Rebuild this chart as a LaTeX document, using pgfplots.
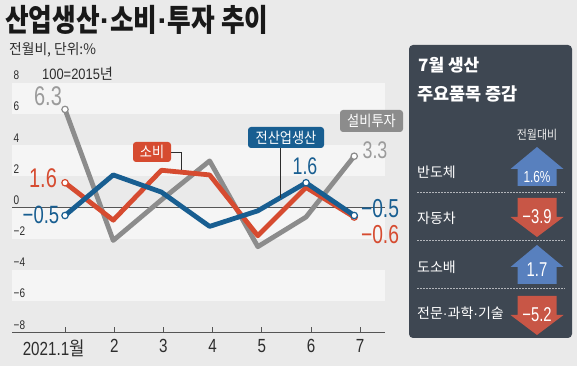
\documentclass[border=0pt]{standalone}
\usepackage{fontspec}
\usepackage{pgfplots}
\pgfplotsset{compat=1.18}
\setmainfont{Liberation Sans}
\newfontfamily\numf[FakeStretch=0.74]{Liberation Sans}
\newfontfamily\tickf[FakeStretch=0.8]{Liberation Sans}
\newfontfamily\smallf[FakeStretch=0.86]{Liberation Sans}
\newfontfamily\krt[FakeStretch=0.83]{Noto Sans CJK KR}
\newfontfamily\krn[FakeStretch=0.88]{Noto Sans CJK KR}
\newfontfamily\krs[FakeStretch=0.95]{Noto Sans CJK KR}
\newfontfamily\kr{Noto Sans CJK KR}
\newfontfamily\latin{Liberation Sans}
\newcommand{\mdot}{{\latin\bfseries ·}}
\newcommand{\mdotr}{{\latin ·}}
\definecolor{bg}{RGB}{234,234,234}
\definecolor{band}{RGB}{245,245,245}
\definecolor{cgray}{RGB}{140,140,140}
\definecolor{lgray}{RGB}{155,155,155}
\definecolor{cred}{RGB}{214,75,48}
\definecolor{cblue}{RGB}{24,94,145}
\definecolor{panel}{RGB}{62,71,82}
\definecolor{upblue}{RGB}{88,128,190}
\definecolor{downred}{RGB}{200,86,70}
\definecolor{axisc}{RGB}{85,85,85}
\definecolor{txt}{RGB}{45,45,45}
\definecolor{titlec}{RGB}{25,25,25}
\begin{document}
\begin{tikzpicture}[x=1pt,y=1pt]
\fill[bg] (0,0) rectangle (577,366);
\useasboundingbox (0,0) rectangle (577,366);
% bands
\fill[band] (12,251.9) rectangle (385,283.1);
\fill[band] (12,189.5) rectangle (385,220.7);
\fill[band] (12,127.1) rectangle (385,158.3);
\fill[band] (12,64.7) rectangle (385,95.9);
% titles
\node[anchor=north west, inner sep=0, text=titlec] at (5,361) {\krt\bfseries\fontsize{31}{31}\selectfont 산업생산\mdot 소비\mdot 투자 추이};
\node[anchor=north west, inner sep=0, text=txt] at (9,324) {\krs\fontsize{14.5}{15}\selectfont 전월비, 단위:\%};
\node[anchor=north west, inner sep=0, text=txt] at (42,299) {\smallf\fontsize{15}{15}\selectfont 100=2015\krs 년};
\begin{axis}[
  at={(12pt,33.5pt)}, anchor=south west, scale only axis,
  x=48.2pt, y=15.6pt, xmin=-0.1, xmax=7.64, ymin=-8, ymax=8,
  clip=false,
  axis x line*=bottom, axis y line*=left,
  y axis line style={draw=none},
  x axis line style={draw=axisc, line width=1.3pt, -},
  ytick={-8,-6,-4,-2,0,2,4,6,8},
  yticklabels={−8,−6,−4,−2,0,2,4,6,8},
  ytick style={draw=none},
  yticklabel style={font=\tickf\fontsize{12.5}{12}\selectfont, text=txt, anchor=south west, inner sep=0pt, xshift=1.5pt, yshift=3pt},
  xtick={1,2.021,3.041,4.062,5.083,6.104,7.124},
  xticklabels={\llap{2021.}1\rlap{\krn 월},2,3,4,5,6,7},
  tick align=inside, major tick length=5pt,
  x tick style={draw=axisc, line width=1pt},
  xticklabel style={font=\tickf\fontsize{19}{19}\selectfont, text=txt, anchor=north, inner sep=0pt, yshift=-7pt},
]
\draw[axisc, line width=1.2pt] (axis cs:-0.1,0) -- (axis cs:7.64,0);
\addplot[cgray, line width=4.8pt, line join=round] coordinates {(1,6.3)(2,-2.1)(3,0.5)(4,3.0)(5,-2.5)(6,-0.6)(7,3.3)};
\addplot[cred, line width=4.8pt, line join=round] coordinates {(1,1.6)(2,-0.8)(3,2.4)(4,2.1)(5,-1.8)(6,1.3)(7,-0.6)};
\addplot[cblue, line width=4.8pt, line join=round] coordinates {(1,-0.5)(2,2.1)(3,1.0)(4,-1.2)(5,-0.2)(6,1.6)(7,-0.5)};
\addplot[only marks, mark=*, mark size=3.2pt, mark options={fill=white, draw=cgray, line width=1.2pt}] coordinates {(1,6.3)(7,3.3)};
\addplot[only marks, mark=*, mark size=3.2pt, mark options={fill=white, draw=cred, line width=1.2pt}] coordinates {(1,1.6)(7,-0.6)};
\addplot[only marks, mark=*, mark size=3.2pt, mark options={fill=white, draw=cblue, line width=1.2pt}] coordinates {(1,-0.5)(6,1.6)(7,-0.5)};
\end{axis}
% value labels
\node[inner sep=0, text=lgray] at (48,269.5) {\numf\fontsize{27}{27}\selectfont 6.3};
\node[inner sep=0, text=cred] at (43,188) {\numf\fontsize{27}{27}\selectfont 1.6};
\node[inner sep=0, text=cblue] at (41,151) {\numf\fontsize{25}{25}\selectfont −0.5};
\node[inner sep=0, text=cblue] at (305,200) {\numf\fontsize{24}{24}\selectfont 1.6};
\node[inner sep=0, text=lgray] at (375,216) {\numf\fontsize{24}{24}\selectfont 3.3};
\node[inner sep=0, text=cblue] at (380,157) {\numf\fontsize{26}{26}\selectfont −0.5};
\node[inner sep=0, text=cred] at (380,131) {\numf\fontsize{26}{26}\selectfont −0.6};
% series tags
\draw[txt, line width=0.8pt] (171,214) -- (181,214) -- (181,196);
\fill[cred, rounded corners=3pt] (133,204) rectangle (171,224);
\node[text=white, inner sep=0] at (152,214) {\krn\fontsize{15}{15}\selectfont 소비};
\draw[txt, line width=0.8pt] (280,218) -- (280,168);
\fill[cblue, rounded corners=3pt] (248,218) rectangle (324,239);
\node[text=white, inner sep=0] at (286,228.5) {\krn\fontsize{15}{15}\selectfont 전산업생산};
\fill[cgray, rounded corners=3pt] (340,234) rectangle (403,256);
\node[text=white, inner sep=0] at (371.5,245) {\krn\fontsize{15}{15}\selectfont 설비투자};
% panel
\fill[panel, rounded corners=4pt] (409,28) rectangle (572,321);
\node[anchor=west, text=white, inner sep=0] at (418,300.5) {\kr\bfseries\fontsize{17}{17}\selectfont 7월 생산};
\node[anchor=west, text=white, inner sep=0] at (417,272) {\kr\bfseries\fontsize{17.5}{17.5}\selectfont 주요품목 증감};
\node[text=white!85!gray, inner sep=0] at (537,231) {\krn\fontsize{12.5}{12.5}\selectfont 전월대비};
\node[anchor=west, text=white, inner sep=0] at (417,194) {\kr\fontsize{14}{14}\selectfont 반도체};
\node[anchor=west, text=white, inner sep=0] at (417,148) {\kr\fontsize{14}{14}\selectfont 자동차};
\node[anchor=west, text=white, inner sep=0] at (417,99) {\kr\fontsize{14}{14}\selectfont 도소배};
\node[anchor=west, text=white, inner sep=0] at (417,53) {\kr\fontsize{14}{14}\selectfont 전문\mdotr 과학\mdotr 기술};
\foreach \yy in {174,126,78} \draw[white!60!panel, line width=0.8pt, dash pattern=on 1.5pt off 1.5pt] (417,\yy) -- (565,\yy);
% arrows
\fill[upblue] (537,219) -- (563.5,197) -- (556.5,197) -- (556.5,180) -- (517.5,180) -- (517.5,197) -- (510.5,197) -- cycle;
\fill[downred] (537,129) -- (563.5,149) -- (556.5,149) -- (556.5,168) -- (517.5,168) -- (517.5,149) -- (510.5,149) -- cycle;
\fill[upblue] (537,121) -- (563.5,99) -- (556.5,99) -- (556.5,82) -- (517.5,82) -- (517.5,99) -- (510.5,99) -- cycle;
\fill[downred] (537,31) -- (563.5,51) -- (556.5,51) -- (556.5,70) -- (517.5,70) -- (517.5,51) -- (510.5,51) -- cycle;
\node[text=white, inner sep=0] at (537,189.5) {\numf\fontsize{16}{16}\selectfont 1.6\%};
\node[text=white, inner sep=0] at (537,149) {\numf\fontsize{20}{20}\selectfont −3.9};
\node[text=white, inner sep=0] at (537,96) {\numf\fontsize{20}{20}\selectfont 1.7};
\node[text=white, inner sep=0] at (537,51.5) {\numf\fontsize{20}{20}\selectfont −5.2};
\end{tikzpicture}
\end{document}
